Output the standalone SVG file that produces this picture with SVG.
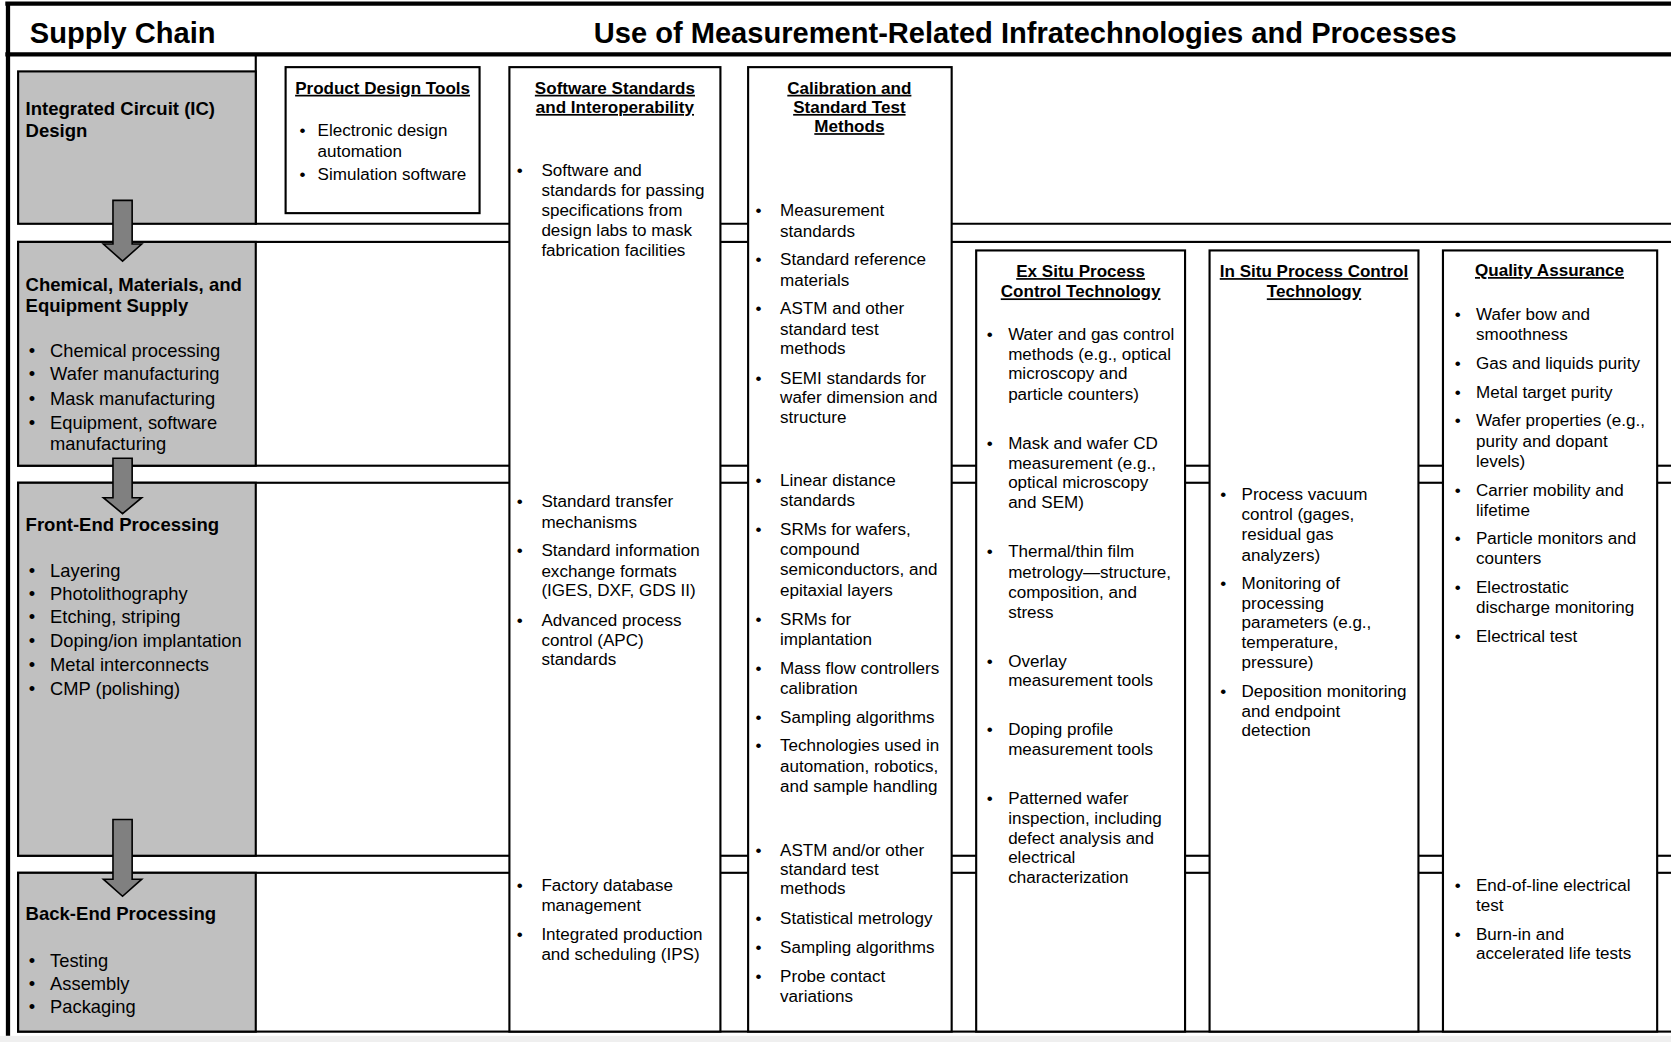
<svg xmlns="http://www.w3.org/2000/svg" width="1671" height="1042" viewBox="0 0 1671 1042">
<style>
.t{font-family:"Liberation Sans",Arial,Helvetica,sans-serif;font-size:16px;fill:#000}
.gl{font-size:17.2px}
.b{font-weight:bold}
.h{font-weight:bold;text-decoration:underline;text-anchor:middle}
.g{font-weight:bold;font-size:17.4px}
.hd{font-weight:bold;font-size:27.3px}
.box{fill:#fff;stroke:#000;stroke-width:2}
.gray{fill:#c0c0c0;stroke:#000;stroke-width:2}
.ln{fill:none;stroke:#000;stroke-width:2}
.thick{fill:none;stroke:#000;stroke-width:4}
.arrow{fill:#808080;stroke:#000;stroke-width:1.5;stroke-linejoin:miter}
</style>
<rect x="0" y="0" width="1671" height="1042" fill="#fff"/>
<g transform="scale(1.0657)">
<g id="frame">
<rect x="0" y="972" width="1575" height="8" fill="#efefef"/>
<path class="ln" d="M240,51 V210 H1575"/>
<rect class="box" x="17" y="227" width="1560" height="210"/>
<rect class="box" x="17" y="453" width="1560" height="350"/>
<rect class="box" x="17" y="819" width="1560" height="149"/>
<line class="thick" x1="5" y1="3.5" x2="1575" y2="3.5"/>
<line class="thick" x1="5" y1="51" x2="1575" y2="51"/>
<line class="thick" x1="7.5" y1="2" x2="7.5" y2="972"/>
</g>
<g id="header">
<text class="t hd" x="28" y="40">Supply Chain</text>
<text class="t hd" x="962" y="40" text-anchor="middle">Use of Measurement-Related Infratechnologies and Processes</text>
</g>
<g id="node-ic-design">
<rect class="gray" x="17" y="67" width="223" height="143"/>
<text class="t g"><tspan x="24" y="108">Integrated Circuit (IC)</tspan><tspan x="24" y="129">Design</tspan></text>
</g>
<g id="node-chemical-supply">
<rect class="gray" x="17" y="227" width="223" height="210"/>
<text class="t g"><tspan x="24" y="273">Chemical, Materials, and</tspan><tspan x="24" y="293">Equipment Supply</tspan></text>
<text class="t gl"><tspan x="27" y="335">•</tspan><tspan x="27" y="357">•</tspan><tspan x="27" y="380">•</tspan><tspan x="27" y="403">•</tspan></text>
<text class="t gl"><tspan x="47" y="335">Chemical processing</tspan><tspan x="47" y="357">Wafer manufacturing</tspan><tspan x="47" y="380">Mask manufacturing</tspan><tspan x="47" y="403">Equipment, software</tspan><tspan x="47" y="422">manufacturing</tspan></text>
</g>
<g id="node-front-end">
<rect class="gray" x="17" y="453" width="223" height="350"/>
<text class="t g" x="24" y="498">Front-End Processing</text>
<text class="t gl"><tspan x="27" y="541">•</tspan><tspan x="27" y="563">•</tspan><tspan x="27" y="585">•</tspan><tspan x="27" y="607">•</tspan><tspan x="27" y="630">•</tspan><tspan x="27" y="652">•</tspan></text>
<text class="t gl"><tspan x="47" y="541">Layering</tspan><tspan x="47" y="563">Photolithography</tspan><tspan x="47" y="585">Etching, striping</tspan><tspan x="47" y="607">Doping/ion implantation</tspan><tspan x="47" y="630">Metal interconnects</tspan><tspan x="47" y="652">CMP (polishing)</tspan></text>
</g>
<g id="node-back-end">
<rect class="gray" x="17" y="819" width="223" height="149"/>
<text class="t g" x="24" y="863">Back-End Processing</text>
<text class="t gl"><tspan x="27" y="907">•</tspan><tspan x="27" y="929">•</tspan><tspan x="27" y="951">•</tspan></text>
<text class="t gl"><tspan x="47" y="907">Testing</tspan><tspan x="47" y="929">Assembly</tspan><tspan x="47" y="951">Packaging</tspan></text>
</g>
<g id="node-product-design-tools">
<rect class="box" x="268" y="63" width="182" height="137"/>
<text class="t h" x="359" y="88">Product Design Tools</text>
<text class="t"><tspan x="281" y="128">•</tspan><tspan x="281" y="169">•</tspan></text>
<text class="t"><tspan x="298" y="128">Electronic design</tspan><tspan x="298" y="147">automation</tspan><tspan x="298" y="169">Simulation software</tspan></text>
</g>
<g id="node-software-standards">
<rect class="box" x="478" y="63" width="198" height="905"/>
<text class="t h"><tspan x="577" y="88">Software Standards</tspan><tspan x="577" y="106">and Interoperability</tspan></text>
<text class="t"><tspan x="485" y="165">•</tspan><tspan x="485" y="476">•</tspan><tspan x="485" y="522">•</tspan><tspan x="485" y="587">•</tspan><tspan x="485" y="836">•</tspan><tspan x="485" y="882">•</tspan></text>
<text class="t"><tspan x="508" y="165">Software and</tspan><tspan x="508" y="184">standards for passing</tspan><tspan x="508" y="202.5">specifications from</tspan><tspan x="508" y="221">design labs to mask</tspan><tspan x="508" y="240">fabrication facilities</tspan><tspan x="508" y="476">Standard transfer</tspan><tspan x="508" y="495">mechanisms</tspan><tspan x="508" y="522">Standard information</tspan><tspan x="508" y="541">exchange formats</tspan><tspan x="508" y="559">(IGES, DXF, GDS II)</tspan><tspan x="508" y="587">Advanced process</tspan><tspan x="508" y="606">control (APC)</tspan><tspan x="508" y="624">standards</tspan><tspan x="508" y="836">Factory database</tspan><tspan x="508" y="855">management</tspan><tspan x="508" y="882">Integrated production</tspan><tspan x="508" y="901">and scheduling (IPS)</tspan></text>
</g>
<g id="node-calibration">
<rect class="box" x="702" y="63" width="191" height="905"/>
<text class="t h"><tspan x="797" y="88">Calibration and</tspan><tspan x="797" y="106">Standard Test</tspan><tspan x="797" y="124">Methods</tspan></text>
<text class="t"><tspan x="709" y="203">•</tspan><tspan x="709" y="249">•</tspan><tspan x="709" y="295">•</tspan><tspan x="709" y="360">•</tspan><tspan x="709" y="456">•</tspan><tspan x="709" y="502">•</tspan><tspan x="709" y="586">•</tspan><tspan x="709" y="632">•</tspan><tspan x="709" y="678">•</tspan><tspan x="709" y="705">•</tspan><tspan x="709" y="803">•</tspan><tspan x="709" y="867">•</tspan><tspan x="709" y="894">•</tspan><tspan x="709" y="921">•</tspan></text>
<text class="t"><tspan x="732" y="203">Measurement</tspan><tspan x="732" y="222">standards</tspan><tspan x="732" y="249">Standard reference</tspan><tspan x="732" y="268">materials</tspan><tspan x="732" y="295">ASTM and other</tspan><tspan x="732" y="314">standard test</tspan><tspan x="732" y="332">methods</tspan><tspan x="732" y="360">SEMI standards for</tspan><tspan x="732" y="378">wafer dimension and</tspan><tspan x="732" y="397">structure</tspan><tspan x="732" y="456">Linear distance</tspan><tspan x="732" y="475">standards</tspan><tspan x="732" y="502">SRMs for wafers,</tspan><tspan x="732" y="521">compound</tspan><tspan x="732" y="540">semiconductors, and</tspan><tspan x="732" y="559">epitaxial layers</tspan><tspan x="732" y="586">SRMs for</tspan><tspan x="732" y="605">implantation</tspan><tspan x="732" y="632">Mass flow controllers</tspan><tspan x="732" y="651">calibration</tspan><tspan x="732" y="678">Sampling algorithms</tspan><tspan x="732" y="705">Technologies used in</tspan><tspan x="732" y="724">automation, robotics,</tspan><tspan x="732" y="743">and sample handling</tspan><tspan x="732" y="803">ASTM and/or other</tspan><tspan x="732" y="821">standard test</tspan><tspan x="732" y="839">methods</tspan><tspan x="732" y="867">Statistical metrology</tspan><tspan x="732" y="894">Sampling algorithms</tspan><tspan x="732" y="921">Probe contact</tspan><tspan x="732" y="940">variations</tspan></text>
</g>
<g id="node-ex-situ">
<rect class="box" x="916" y="235" width="196" height="733"/>
<text class="t h"><tspan x="1014" y="260">Ex Situ Process</tspan><tspan x="1014" y="279">Control Technology</tspan></text>
<text class="t"><tspan x="926" y="319">•</tspan><tspan x="926" y="421">•</tspan><tspan x="926" y="523">•</tspan><tspan x="926" y="626">•</tspan><tspan x="926" y="690">•</tspan><tspan x="926" y="754">•</tspan></text>
<text class="t"><tspan x="946" y="319">Water and gas control</tspan><tspan x="946" y="338">methods (e.g., optical</tspan><tspan x="946" y="356">microscopy and</tspan><tspan x="946" y="375">particle counters)</tspan><tspan x="946" y="421">Mask and wafer CD</tspan><tspan x="946" y="440">measurement (e.g.,</tspan><tspan x="946" y="458">optical microscopy</tspan><tspan x="946" y="477">and SEM)</tspan><tspan x="946" y="523">Thermal/thin film</tspan><tspan x="946" y="542">metrology—structure,</tspan><tspan x="946" y="561">composition, and</tspan><tspan x="946" y="580">stress</tspan><tspan x="946" y="626">Overlay</tspan><tspan x="946" y="644">measurement tools</tspan><tspan x="946" y="690">Doping profile</tspan><tspan x="946" y="708">measurement tools</tspan><tspan x="946" y="754">Patterned wafer</tspan><tspan x="946" y="773">inspection, including</tspan><tspan x="946" y="792">defect analysis and</tspan><tspan x="946" y="810">electrical</tspan><tspan x="946" y="829">characterization</tspan></text>
</g>
<g id="node-in-situ">
<rect class="box" x="1135" y="235" width="196" height="733"/>
<text class="t h"><tspan x="1233" y="260">In Situ Process Control</tspan><tspan x="1233" y="279">Technology</tspan></text>
<text class="t"><tspan x="1145" y="469">•</tspan><tspan x="1145" y="553">•</tspan><tspan x="1145" y="654">•</tspan></text>
<text class="t"><tspan x="1165" y="469">Process vacuum</tspan><tspan x="1165" y="488">control (gages,</tspan><tspan x="1165" y="507">residual gas</tspan><tspan x="1165" y="526">analyzers)</tspan><tspan x="1165" y="553">Monitoring of</tspan><tspan x="1165" y="571">processing</tspan><tspan x="1165" y="589">parameters (e.g.,</tspan><tspan x="1165" y="608">temperature,</tspan><tspan x="1165" y="627">pressure)</tspan><tspan x="1165" y="654">Deposition monitoring</tspan><tspan x="1165" y="673">and endpoint</tspan><tspan x="1165" y="691">detection</tspan></text>
</g>
<g id="node-quality-assurance">
<rect class="box" x="1354" y="235" width="201" height="733"/>
<text class="t h" x="1454" y="259">Quality Assurance</text>
<text class="t"><tspan x="1365" y="300">•</tspan><tspan x="1365" y="346">•</tspan><tspan x="1365" y="373">•</tspan><tspan x="1365" y="400">•</tspan><tspan x="1365" y="465">•</tspan><tspan x="1365" y="510">•</tspan><tspan x="1365" y="556">•</tspan><tspan x="1365" y="602">•</tspan><tspan x="1365" y="836">•</tspan><tspan x="1365" y="882">•</tspan></text>
<text class="t"><tspan x="1385" y="300">Wafer bow and</tspan><tspan x="1385" y="319">smoothness</tspan><tspan x="1385" y="346">Gas and liquids purity</tspan><tspan x="1385" y="373">Metal target purity</tspan><tspan x="1385" y="400">Wafer properties (e.g.,</tspan><tspan x="1385" y="419">purity and dopant</tspan><tspan x="1385" y="438">levels)</tspan><tspan x="1385" y="465">Carrier mobility and</tspan><tspan x="1385" y="484">lifetime</tspan><tspan x="1385" y="510">Particle monitors and</tspan><tspan x="1385" y="529">counters</tspan><tspan x="1385" y="556">Electrostatic</tspan><tspan x="1385" y="575">discharge monitoring</tspan><tspan x="1385" y="602">Electrical test</tspan><tspan x="1385" y="836">End-of-line electrical</tspan><tspan x="1385" y="855">test</tspan><tspan x="1385" y="882">Burn-in and</tspan><tspan x="1385" y="900">accelerated life tests</tspan></text>
</g>
<g id="connectors">
<polygon class="arrow" points="106,188 124,188 124,229 133,229 115,245 97,229 106,229"/>
<polygon class="arrow" points="106,430 124,430 124,467 133,467 115,482 97,467 106,467"/>
<polygon class="arrow" points="106,769 124,769 124,825 133,825 115,841 97,825 106,825"/>
</g>
</g>
</svg>
